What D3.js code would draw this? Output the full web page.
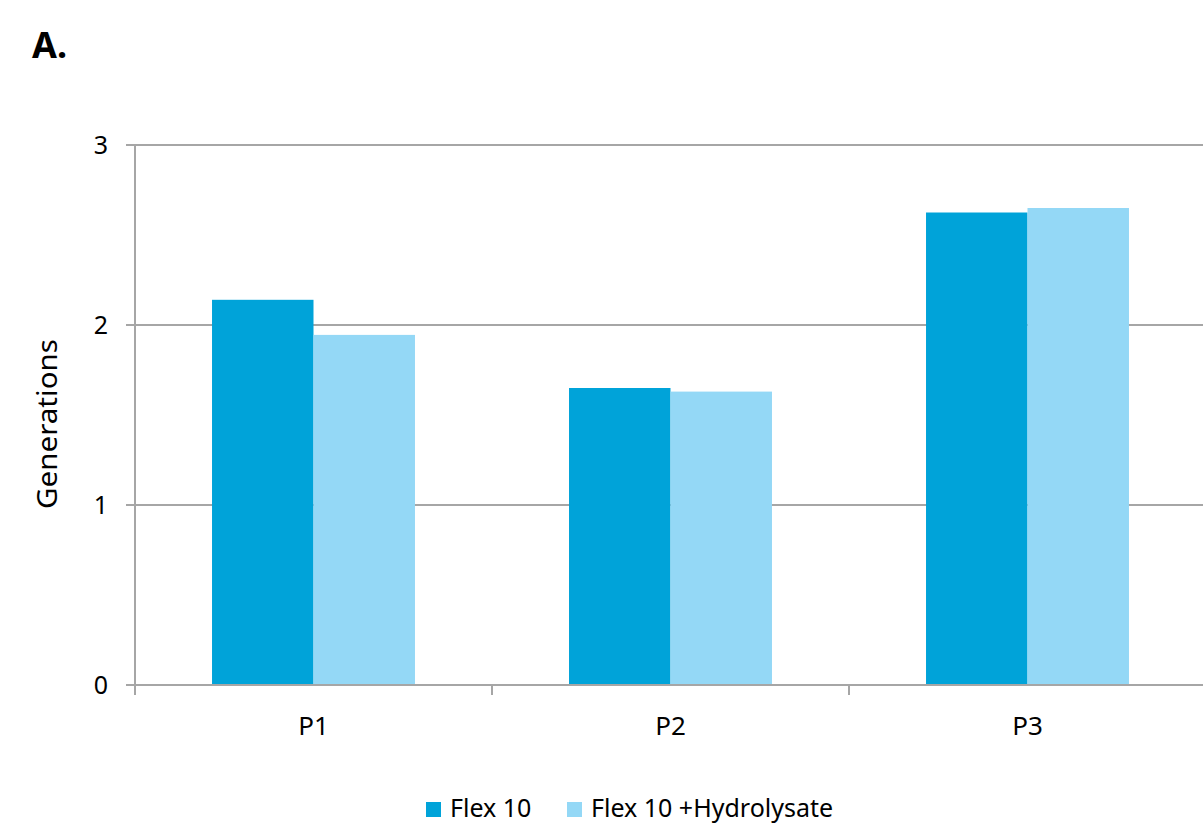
<!DOCTYPE html>
<html><head><meta charset="utf-8">
<script src="https://cdn.jsdelivr.net/npm/d3@7"></script>
<style>body{margin:0;background:#fff}svg{display:block}text{font-family:"Noto Sans",sans-serif}</style>
</head><body>
<svg id="c" width="1203" height="833"></svg>
<script>
const categories = ["P1", "P2", "P3"];
const seriesNames = ["Flex 10", "Flex 10 +Hydrolysate"];
const flex10 = [2.14, 1.65, 2.625];
const flex10Hydro = [1.945, 1.63, 2.65];
const yTicks = [0, 1, 2, 3];
const colors = ["#00A3D9", "#94D8F6"];

const svg = d3.select("#c");
const x = d3.scaleBand().domain(categories).range([135, 1206]).paddingInner(0).paddingOuter(0);
const y = d3.scaleLinear().domain([0, 3]).range([685, 145]);
const inner = d3.scaleBand().domain(seriesNames).range([0, x.bandwidth()]).paddingOuter(0.759).paddingInner(0);
const data = categories.map((c, i) => ({cat: c, vals: [flex10[i], flex10Hydro[i]]}));

// gridlines
svg.append("g").selectAll("line").data(yTicks).join("line")
  .attr("x1", 126).attr("x2", 1206)
  .attr("y1", d => y(d)).attr("y2", d => y(d))
  .attr("stroke", "#A6A6A6").attr("stroke-width", 2);

// bars
const g = svg.append("g");
data.forEach(d => {
  d.vals.forEach((v, j) => {
    g.append("rect")
      .attr("x", x(d.cat) + inner(seriesNames[j]))
      .attr("width", inner.bandwidth())
      .attr("y", y(v)).attr("height", y(0) - y(v))
      .attr("fill", colors[j]);
  });
});

// y axis line
svg.append("line").attr("x1", 135).attr("x2", 135).attr("y1", 145).attr("y2", 686)
  .attr("stroke", "#A6A6A6").attr("stroke-width", 2);
// baseline redraw
svg.append("line").attr("x1", 126).attr("x2", 1206).attr("y1", y(0)).attr("y2", y(0))
  .attr("stroke", "#A6A6A6").attr("stroke-width", 2);
// x ticks
svg.append("g").selectAll("line").data(categories).join("line")
  .attr("x1", d => x(d)).attr("x2", d => x(d))
  .attr("y1", 685).attr("y2", 695)
  .attr("stroke", "#A6A6A6").attr("stroke-width", 2);

// y tick labels
svg.append("g").selectAll("text").data(yTicks).join("text")
  .attr("x", 108).attr("y", d => y(d)).attr("dy", "0.35em")
  .attr("text-anchor", "end").attr("font-size", 25).attr("fill", "#000")
  .text(d => d);

// x labels
svg.append("g").selectAll("text").data(categories).join("text")
  .attr("x", d => x(d) + x.bandwidth() / 2).attr("y", 735)
  .attr("text-anchor", "middle").attr("font-size", 26).attr("fill", "#000")
  .text(d => d);

// y title
svg.append("text").attr("transform", "translate(57,424) rotate(-90)")
  .attr("text-anchor", "middle").attr("font-size", 28).attr("fill", "#000")
  .attr("textLength", 170).attr("lengthAdjust", "spacingAndGlyphs")
  .text("Generations");

// panel label
svg.append("text").attr("x", 32).attr("y", 58).attr("font-size", 36)
  .attr("font-weight", "bold").attr("fill", "#000").text("A.");

// legend
const legX = [426, 567];
seriesNames.forEach((s, j) => {
  svg.append("rect").attr("x", legX[j]).attr("y", 802).attr("width", 15).attr("height", 15).attr("fill", colors[j]);
  svg.append("text").attr("x", legX[j] + 24).attr("y", 817).attr("font-size", 25).attr("fill", "#000").text(s);
});
</script>
</body></html>
